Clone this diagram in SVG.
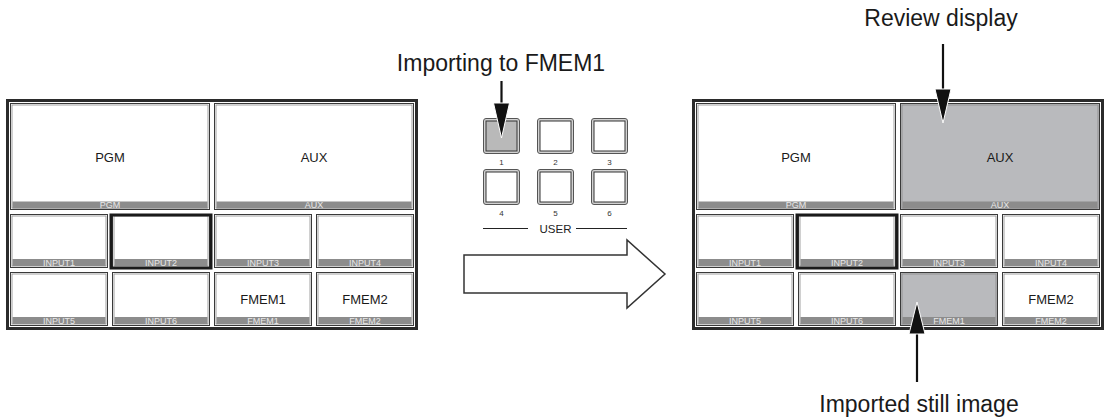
<svg xmlns="http://www.w3.org/2000/svg" width="1104" height="420" viewBox="0 0 1104 420">
<defs>
<style>
text{font-family:"Liberation Sans",Arial,sans-serif}
.frame{fill:#fff;stroke:#2b2b2b;stroke-width:3}
.co{fill:#fff;stroke:#3a3a3a;stroke-width:1}
.cg{fill:#b9babd;stroke:#3a3a3a;stroke-width:1}
.ci{fill:none;stroke:#8a8a8a;stroke-width:0.8}
.bar{fill:#8c8c8c}
.lbl{font-size:9px;fill:#e8e8e8;text-anchor:middle}
.big{font-size:13px;fill:#1a1a1a;text-anchor:middle}
.sel{fill:none;stroke:#1a1a1a;stroke-width:3}
.bo{fill:#d2d2d2;stroke:#555;stroke-width:1}
.bi{fill:#fff;stroke:#333;stroke-width:1}
.bn{font-size:8px;fill:#333;text-anchor:middle}
.cap{font-size:23px;fill:#1a1a1a;text-anchor:middle}
.conn{stroke:#111;stroke-width:2.2;fill:none}
.head{fill:#111;stroke:#fff;stroke-width:1}
</style>
</defs>

<!-- LEFT MULTIVIEW -->
<g id="left-panel">
<rect class="frame" x="7.5" y="100.5" width="409" height="228"/>
<g id="l-pgm"><rect class="co" x="10.5" y="103.5" width="199" height="106"/><rect class="ci" x="12" y="105" width="196" height="103"/><rect class="bar" x="12.5" y="201.5" width="195" height="7"/><text class="lbl" x="110" y="208.3">PGM</text><text class="big" x="110" y="162">PGM</text></g>
<g id="l-aux"><rect class="co" x="214.5" y="103.5" width="199" height="106"/><rect class="ci" x="216" y="105" width="196" height="103"/><rect class="bar" x="216.5" y="201.5" width="195" height="7"/><text class="lbl" x="314" y="208.3">AUX</text><text class="big" x="314" y="162">AUX</text></g>
<g id="l-in1"><rect class="co" x="10.5" y="214.5" width="97" height="53"/><rect class="ci" x="12" y="216" width="94" height="50"/><rect class="bar" x="12.5" y="259" width="93" height="7"/><text class="lbl" x="59" y="265.8">INPUT1</text></g>
<g id="l-in2"><rect class="co" x="112.5" y="214.5" width="97" height="53"/><rect class="ci" x="114" y="216" width="94" height="50"/><rect class="bar" x="114.5" y="259" width="93" height="7"/><text class="lbl" x="161" y="265.8">INPUT2</text><rect class="sel" x="111" y="215" width="100" height="53"/></g>
<g id="l-in3"><rect class="co" x="214.5" y="214.5" width="97" height="53"/><rect class="ci" x="216" y="216" width="94" height="50"/><rect class="bar" x="216.5" y="259" width="93" height="7"/><text class="lbl" x="263" y="265.8">INPUT3</text></g>
<g id="l-in4"><rect class="co" x="316.5" y="214.5" width="97" height="53"/><rect class="ci" x="318" y="216" width="94" height="50"/><rect class="bar" x="318.5" y="259" width="93" height="7"/><text class="lbl" x="365" y="265.8">INPUT4</text></g>
<g id="l-in5"><rect class="co" x="10.5" y="272.5" width="97" height="53"/><rect class="ci" x="12" y="274" width="94" height="50"/><rect class="bar" x="12.5" y="317" width="93" height="7"/><text class="lbl" x="59" y="323.8">INPUT5</text></g>
<g id="l-in6"><rect class="co" x="112.5" y="272.5" width="97" height="53"/><rect class="ci" x="114" y="274" width="94" height="50"/><rect class="bar" x="114.5" y="317" width="93" height="7"/><text class="lbl" x="161" y="323.8">INPUT6</text></g>
<g id="l-fm1"><rect class="co" x="214.5" y="272.5" width="97" height="53"/><rect class="ci" x="216" y="274" width="94" height="50"/><rect class="bar" x="216.5" y="317" width="93" height="7"/><text class="lbl" x="263" y="323.8">FMEM1</text><text class="big" x="263" y="304">FMEM1</text></g>
<g id="l-fm2"><rect class="co" x="316.5" y="272.5" width="97" height="53"/><rect class="ci" x="318" y="274" width="94" height="50"/><rect class="bar" x="318.5" y="317" width="93" height="7"/><text class="lbl" x="365" y="323.8">FMEM2</text><text class="big" x="365" y="304">FMEM2</text></g>
</g>

<!-- USER BUTTONS -->
<g id="user-buttons">
<g id="btn1"><rect class="bo" x="483.5" y="118.5" width="36" height="35" rx="2.5"/><rect class="bi" x="486" y="121" width="31" height="30" style="fill:#b9b9b9"/><text class="bn" x="501.5" y="165">1</text></g>
<g id="btn2"><rect class="bo" x="537.5" y="118.5" width="36" height="35" rx="2.5"/><rect class="bi" x="540" y="121" width="31" height="30"/><text class="bn" x="555.5" y="165">2</text></g>
<g id="btn3"><rect class="bo" x="591.5" y="118.5" width="36" height="35" rx="2.5"/><rect class="bi" x="594" y="121" width="31" height="30"/><text class="bn" x="609.5" y="165">3</text></g>
<g id="btn4"><rect class="bo" x="483.5" y="169.5" width="36" height="35" rx="2.5"/><rect class="bi" x="486" y="172" width="31" height="30"/><text class="bn" x="501.5" y="216">4</text></g>
<g id="btn5"><rect class="bo" x="537.5" y="169.5" width="36" height="35" rx="2.5"/><rect class="bi" x="540" y="172" width="31" height="30"/><text class="bn" x="555.5" y="216">5</text></g>
<g id="btn6"><rect class="bo" x="591.5" y="169.5" width="36" height="35" rx="2.5"/><rect class="bi" x="594" y="172" width="31" height="30"/><text class="bn" x="609.5" y="216">6</text></g>
<g id="user-label"><line x1="483" y1="228.5" x2="528" y2="228.5" stroke="#222" stroke-width="1"/><line x1="576" y1="228.5" x2="627" y2="228.5" stroke="#222" stroke-width="1"/><text x="555.5" y="232.5" font-size="11.5" fill="#222" text-anchor="middle">USER</text></g>
</g>

<!-- BIG ARROW -->
<g id="transition-arrow">
<polygon points="464,255 627,255 627,240 665,274 627,308 627,293 464,293" fill="#fff" stroke="#333" stroke-width="1.5"/>
</g>

<!-- RIGHT MULTIVIEW -->
<g id="right-panel" transform="translate(686,0)">
<rect class="frame" x="7.5" y="100.5" width="409" height="228"/>
<g id="r-pgm"><rect class="co" x="10.5" y="103.5" width="199" height="106"/><rect class="ci" x="12" y="105" width="196" height="103"/><rect class="bar" x="12.5" y="201.5" width="195" height="7"/><text class="lbl" x="110" y="208.3">PGM</text><text class="big" x="110" y="162">PGM</text></g>
<g id="r-aux"><rect class="cg" x="214.5" y="103.5" width="199" height="106"/><rect class="ci" x="216" y="105" width="196" height="103"/><rect class="bar" x="216.5" y="201.5" width="195" height="7"/><text class="lbl" x="314" y="208.3">AUX</text><text class="big" x="314" y="162">AUX</text></g>
<g id="r-in1"><rect class="co" x="10.5" y="214.5" width="97" height="53"/><rect class="ci" x="12" y="216" width="94" height="50"/><rect class="bar" x="12.5" y="259" width="93" height="7"/><text class="lbl" x="59" y="265.8">INPUT1</text></g>
<g id="r-in2"><rect class="co" x="112.5" y="214.5" width="97" height="53"/><rect class="ci" x="114" y="216" width="94" height="50"/><rect class="bar" x="114.5" y="259" width="93" height="7"/><text class="lbl" x="161" y="265.8">INPUT2</text><rect class="sel" x="111" y="215" width="100" height="53"/></g>
<g id="r-in3"><rect class="co" x="214.5" y="214.5" width="97" height="53"/><rect class="ci" x="216" y="216" width="94" height="50"/><rect class="bar" x="216.5" y="259" width="93" height="7"/><text class="lbl" x="263" y="265.8">INPUT3</text></g>
<g id="r-in4"><rect class="co" x="316.5" y="214.5" width="97" height="53"/><rect class="ci" x="318" y="216" width="94" height="50"/><rect class="bar" x="318.5" y="259" width="93" height="7"/><text class="lbl" x="365" y="265.8">INPUT4</text></g>
<g id="r-in5"><rect class="co" x="10.5" y="272.5" width="97" height="53"/><rect class="ci" x="12" y="274" width="94" height="50"/><rect class="bar" x="12.5" y="317" width="93" height="7"/><text class="lbl" x="59" y="323.8">INPUT5</text></g>
<g id="r-in6"><rect class="co" x="112.5" y="272.5" width="97" height="53"/><rect class="ci" x="114" y="274" width="94" height="50"/><rect class="bar" x="114.5" y="317" width="93" height="7"/><text class="lbl" x="161" y="323.8">INPUT6</text></g>
<g id="r-fm1"><rect class="cg" x="214.5" y="272.5" width="97" height="53"/><rect class="ci" x="216" y="274" width="94" height="50"/><rect class="bar" x="216.5" y="317" width="93" height="7"/><text class="lbl" x="263" y="323.8">FMEM1</text></g>
<g id="r-fm2"><rect class="co" x="316.5" y="272.5" width="97" height="53"/><rect class="ci" x="318" y="274" width="94" height="50"/><rect class="bar" x="318.5" y="317" width="93" height="7"/><text class="lbl" x="365" y="323.8">FMEM2</text><text class="big" x="365" y="304">FMEM2</text></g>
</g>

<!-- CAPTIONS -->
<g id="captions">
<text class="cap" x="501" y="71">Importing to FMEM1</text>
<text class="cap" x="941" y="26">Review display</text>
<text class="cap" x="919" y="412">Imported still image</text>
</g>

<!-- CONNECTORS -->
<g id="connectors">
<path class="conn" d="M501.5,81 V106"/>
<path class="head" d="M493.5,103 L509.5,103 L501.5,138 Z"/>
<path class="conn" d="M943,44 V92"/>
<path class="head" d="M935,89 L951,89 L943,123 Z"/>
<path class="conn" d="M917,382 V331"/>
<path class="head" d="M909,334 L925,334 L917,302 Z"/>
</g>
</svg>
